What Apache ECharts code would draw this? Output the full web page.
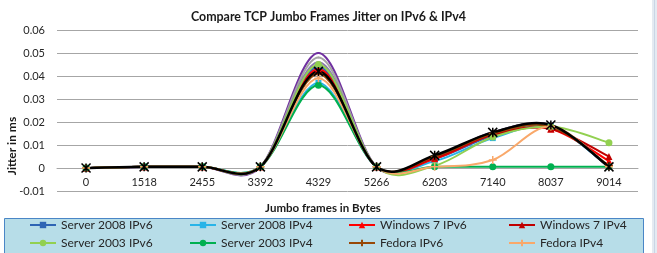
<!DOCTYPE html>
<html><head><meta charset="utf-8">
<script src="https://cdn.jsdelivr.net/npm/echarts@6/dist/echarts.min.js"></script>
<style>html,body{margin:0;padding:0;background:#fff}#c{width:657px;height:253px}</style>
</head><body><div id="c"></div>
<script>
const categories = ['0','1518','2455','3392','4329','5266','6203','7140','8037','9014'];
const yTicks = { min: -0.01, max: 0.06, interval: 0.01 };
const server2008IPv6 = [0,0.0005,0.0005,0.0005,0.044,0.0005,0.004,0.014,0.0185,0.0005];
const server2008IPv4 = [0,0.0005,0.0005,0.0005,0.037,0.0005,0.003,0.013,0.018,0.0005];
const windows7IPv6   = [0,0.0005,0.0005,0.0005,0.043,0.0005,0.004,0.0145,0.017,0.003];
const windows7IPv4   = [0,0.0005,0.0005,0.0005,0.042,0.0005,0.0045,0.0145,0.017,0.005];
const server2003IPv6 = [0,0.0005,0.0005,0.0005,0.045,0.0005,0.001,0.0135,0.018,0.011];
const server2003IPv4 = [0,0.0005,0.0005,0.0005,0.036,0.0005,0.0005,0.0005,0.0005,0.0005];
const fedoraIPv6     = [0,0.0005,0.0005,0.0005,0.041,0.0005,0.005,0.015,0.018,0.001];
const fedoraIPv4     = [0,0.0005,0.0005,0.0005,0.039,0.0005,0.0005,0.0035,0.018,0.0005];
const extraPurple    = [0,0.0005,0.0005,0.0005,0.050,0.0005,0.005,0.0155,0.0185,0.0005];
const extraGray      = [0,0.0005,0.0005,0.0005,0.048,0.0005,0.005,0.0155,0.0185,0.0005];
const extraLavender  = [0,0.0005,0.0005,0.0005,0.046,0.0005,0.005,0.0155,0.0185,0.0005];
const extraBlack     = [0,0.0005,0.0005,0.0005,0.042,0.0005,0.0055,0.0155,0.0187,0.0005];

const FONT = 'Lato';
const plusPath = 'path://M5,0L5,10M0,5L10,5';
const starPath = 'path://M0,0L10,10M10,0L0,10M5,0L5,10';

// Excel-like smoothed curve drawn through the axes' coordinate system
function curve(data, color, width, z) {
  return {
    type: 'custom', silent: true, z,
    data: data.map((v, i) => [i, v]),
    encode: { x: 0, y: 1 },
    renderItem: (params, api) => {
      const i = params.dataIndexInside, n = params.dataInsideLength;
      if (i >= n - 1) return null;
      const P = k => { k = Math.max(0, Math.min(n - 1, k)); return api.coord([api.value(0, k), api.value(1, k)]); };
      const p0 = P(i - 1), p1 = P(i), p2 = P(i + 1), p3 = P(i + 2);
      const t = 1 / 6;
      return {
        type: 'bezierCurve',
        shape: {
          x1: p1[0], y1: p1[1], x2: p2[0], y2: p2[1],
          cpx1: p1[0] + (p2[0] - p0[0]) * t, cpy1: p1[1] + (p2[1] - p0[1]) * t,
          cpx2: p2[0] - (p3[0] - p1[0]) * t, cpy2: p2[1] - (p3[1] - p1[1]) * t
        },
        style: { stroke: color, lineWidth: width, fill: null, lineCap: 'round' }
      };
    }
  };
}

const defs = [
  ['ext1', extraPurple, '#7030a0', 'none', 0, 2.2],
  ['ext2', extraGray, '#a5a5a5', 'none', 0, 2],
  ['ext3', extraLavender, '#8c7cb0', 'none', 0, 2],
  ['Server 2008 IPv6', server2008IPv6, '#2e64b4', 'rect', 6, 2],
  ['Server 2008 IPv4', server2008IPv4, '#28b4e8', 'rect', 6, 2],
  ['Windows 7 IPv6', windows7IPv6, '#ff0000', 'triangle', 7, 2],
  ['Windows 7 IPv4', windows7IPv4, '#c00000', 'triangle', 7, 2],
  ['Server 2003 IPv6', server2003IPv6, '#92d050', 'circle', 7, 2],
  ['Server 2003 IPv4', server2003IPv4, '#00b050', 'circle', 7, 2],
  ['Fedora IPv6', fedoraIPv6, '#984807', plusPath, 8, 2, true],
  ['Fedora IPv4', fedoraIPv4, '#f9a86a', plusPath, 8, 2, true],
  ['ext4', extraBlack, '#000000', starPath, 9, 2.5, true]
];

const series = [];
const legendStyle = {};
defs.forEach((d, idx) => {
  const [name, data, color, symbol, size, width, strokeSym] = d;
  series.push(curve(data, color, width, 2 + idx * 0.01));
  series.push({
    name, type: 'line', data, symbol, symbolSize: size, showSymbol: symbol !== 'none',
    lineStyle: { color, width, opacity: 0 },
    itemStyle: strokeSym ? { color: 'none', borderColor: color, borderWidth: 1.5 } : { color },
    emphasis: { disabled: true }, z: 3
  });
  legendStyle[name] = { color, width };
});

function legendCol(left, names) {
  return {
    orient: 'vertical', left, top: 218, padding: 0, itemGap: 4, itemWidth: 26, itemHeight: 8,
    selectedMode: false,
    data: names.map(n => ({ name: n, lineStyle: { color: legendStyle[n].color, width: 2, opacity: 1 } })),
    textStyle: { fontFamily: FONT, fontSize: 12, lineHeight: 14, color: '#262626' }
  };
}

const chart = echarts.init(document.getElementById('c'));
chart.setOption({
  animation: false,
  backgroundColor: '#ffffff',
  title: {
    text: 'Compare TCP Jumbo Frames Jitter on IPv6 & IPv4', left: 'center', top: 6,
    textStyle: { fontFamily: FONT, fontSize: 12.4, fontWeight: 'bold', color: '#1a1a1a' }
  },
  graphic: [
    { type: 'rect', shape: { x: 652, y: 0, width: 5, height: 253 }, style: { fill: '#e4eaf2' }, z: 0 },
    { type: 'rect', shape: { x: 654, y: 0, width: 1, height: 253 }, style: { fill: '#c9d6e6' }, z: 0 },
    { type: 'rect', shape: { x: 4.5, y: 218.5, width: 639, height: 40 }, style: { fill: '#b7dde8', stroke: '#4a86c6', lineWidth: 1 }, z: 0 },
    { type: 'text', x: 323, y: 208, style: { text: 'Jumbo frames in Bytes', font: 'bold 11.5px ' + FONT, fill: '#1a1a1a', textAlign: 'center', textVerticalAlign: 'middle' } },
    { type: 'text', x: 12, y: 146, rotation: Math.PI / 2, style: { text: 'Jitter in ms', font: 'bold 12px ' + FONT, fill: '#1a1a1a', textAlign: 'center', textVerticalAlign: 'middle' } }
  ],
  legend: [
    legendCol(29, ['Server 2008 IPv6', 'Server 2003 IPv6']),
    legendCol(189, ['Server 2008 IPv4', 'Server 2003 IPv4']),
    legendCol(348, ['Windows 7 IPv6', 'Fedora IPv6']),
    legendCol(508, ['Windows 7 IPv4', 'Fedora IPv4'])
  ],
  grid: { left: 57, right: 19, top: 30, bottom: 62 },
  xAxis: {
    type: 'category', data: categories, boundaryGap: true, position: 'bottom', offset: -23,
    axisLine: { show: true, onZero: false, lineStyle: { color: '#a6a6a6' } },
    axisTick: { show: false },
    axisLabel: { fontFamily: FONT, fontSize: 11, color: '#262626', margin: 9 }
  },
  yAxis: {
    type: 'value', min: yTicks.min, max: yTicks.max, interval: yTicks.interval,
    axisLine: { show: false }, axisTick: { show: false },
    splitLine: { lineStyle: { color: '#a6a6a6', width: 1 } },
    axisLabel: {
      fontFamily: FONT, fontSize: 11, color: '#262626', margin: 12,
      formatter: v => Math.abs(v) < 1e-9 ? '0' : v.toFixed(2)
    }
  },
  series
});
</script></body></html>
